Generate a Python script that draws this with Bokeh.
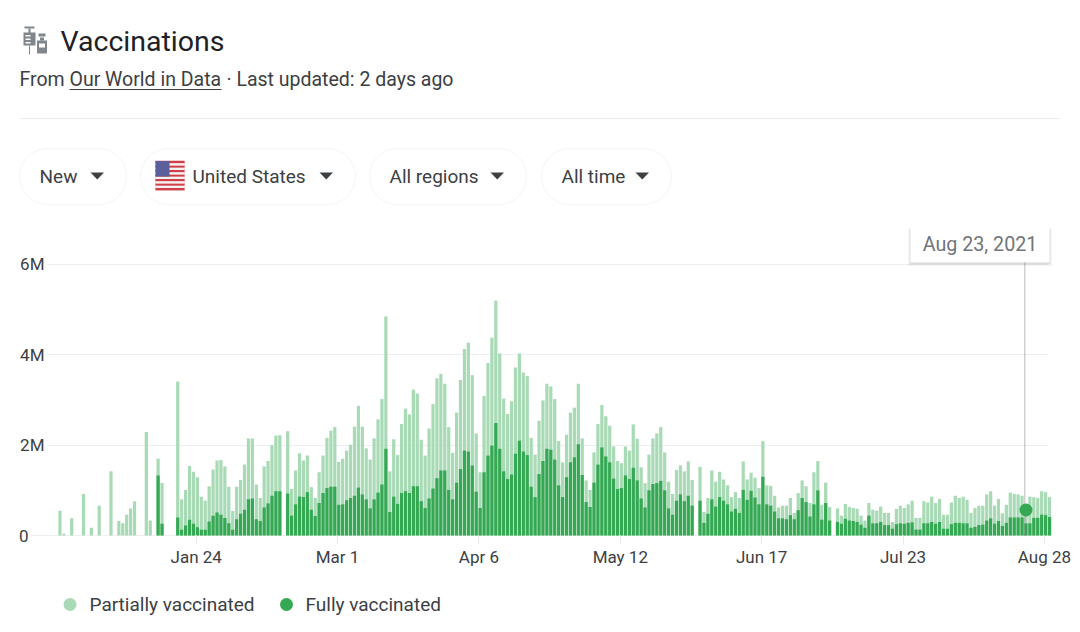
import pandas as pd
from bokeh.embed import file_html
from bokeh.resources import INLINE
from bokeh.plotting import figure
from bokeh.models import ColumnDataSource, Range1d, FixedTicker, BoxAnnotation, LinearAxis, Grid
from bokeh.core.properties import value

# ---------- data (millions of doses per day, starting 2020-12-20) ----------
first_day = "2020-12-20"
partially = [
 0.55,0.04,0,0.38,0,0,0.92,0,0.17,0,0.66,0,0,1.42,0,0.32,0.27,0.46,0.60,0.76,0,0,2.29,0.33,0,
 1.70,1.16,0,0,0,3.41,0.80,1.01,1.54,1.41,1.29,0.86,0.77,1.09,1.46,1.66,1.67,1.53,1.08,0.54,1.08,1.23,1.57,2.15,2.15,
 1.13,0.83,1.53,1.65,2.00,2.21,2.22,0,2.31,1.03,1.44,1.82,1.66,1.77,1.07,0.83,1.40,1.77,2.16,2.32,2.40,1.63,1.70,1.88,2.01,
 2.41,2.87,2.41,1.93,1.68,2.15,2.57,3.02,4.85,1.42,2.13,1.78,2.47,2.81,2.68,3.23,3.14,2.12,1.77,2.37,2.91,3.48,3.58,3.36,2.40,
 1.83,2.72,3.44,4.13,4.27,3.55,2.26,1.40,3.09,3.82,4.38,5.20,4.03,3.03,2.69,2.97,3.72,4.03,3.61,3.53,2.16,1.79,2.54,2.99,3.36,
 3.30,3.02,2.09,1.62,2.23,2.72,2.83,3.36,2.15,1.22,1.01,1.84,2.47,2.89,2.64,2.43,1.97,1.65,1.60,1.97,1.88,2.46,2.14,1.51,1.16,
 1.79,2.15,2.26,2.40,1.84,1.19,0.92,1.45,1.55,1.42,1.64,1.23,0,1.52,0.52,0.83,1.44,1.19,1.41,1.24,1.11,0.85,0.96,0.83,1.64,
 1.24,1.39,1.28,1.05,2.09,1.11,1.10,0.88,0.62,0.66,0.66,0.83,0.50,0.94,1.22,1.09,0.72,1.40,1.65,0.68,1.17,0.63,0,0.60,0.44,
 0.70,0.63,0.61,0.59,0.44,0.33,0.72,0.57,0.55,0.64,0.50,0.50,0.30,0.59,0.66,0.61,0.69,0.77,0.39,0.39,0.76,0.73,0.86,0.72,0.81,
 0.46,0.46,0.73,0.88,0.83,0.86,0.79,0.50,0.61,0.66,0.66,0.91,0.98,0.66,0.81,0.49,0.68,0.95,0.92,0.91,0.88,0.48,0.86,0.85,0.83,
 0.98,0.96,0.85]
fully = [
 0,0,0,0,0,0,0,0,0,0,0,0,0,0,0,0,0,0,0,0,0,0,0,0,0,
 1.33,0.26,0,0,0,0.40,0.13,0.22,0.35,0.26,0.18,0.13,0.13,0.31,0.44,0.51,0.46,0.39,0.27,0.13,0.36,0.48,0.57,0.80,0.82,
 0.36,0.32,0.62,0.71,0.88,0.98,0.98,0,0.93,0.44,0.69,0.86,0.85,0.96,0.57,0.43,0.72,0.94,1.05,1.08,1.08,0.68,0.69,0.78,0.83,
 0.88,1.06,0.91,0.80,0.60,0.80,0.95,1.13,1.92,0.52,0.86,0.70,0.94,0.98,0.94,1.09,1.09,0.76,0.61,0.82,1.04,1.27,1.44,1.44,1.01,
 0.80,1.17,1.47,1.88,1.86,1.55,0.97,0.61,1.40,1.77,1.99,2.49,1.92,1.42,1.25,1.35,1.81,2.10,1.86,1.78,1.08,0.85,1.36,1.65,1.92,
 1.90,1.68,1.11,0.85,1.29,1.62,1.73,2.02,1.34,0.74,0.63,1.17,1.57,1.95,1.75,1.62,1.26,1.03,1.05,1.33,1.25,1.50,1.22,0.82,0.62,
 1.00,1.14,1.16,1.21,1.00,0.60,0.46,0.77,0.91,0.76,0.88,0.66,0,0.77,0.28,0.48,0.80,0.64,0.85,0.77,0.69,0.53,0.59,0.50,1.01,
 0.79,0.99,0.84,0.69,1.30,0.69,0.66,0.53,0.38,0.38,0.36,0.45,0.36,0.56,0.83,0.74,0.42,0.69,1.00,0.35,0.72,0.33,0,0.30,0.26,
 0.37,0.33,0.32,0.30,0.24,0.17,0.44,0.27,0.27,0.30,0.23,0.23,0.15,0.25,0.27,0.26,0.28,0.29,0.13,0.13,0.27,0.27,0.30,0.26,0.30,
 0.15,0.15,0.25,0.28,0.28,0.27,0.27,0.17,0.19,0.23,0.24,0.33,0.38,0.26,0.32,0.21,0.28,0.40,0.40,0.40,0.40,0.27,0.27,0.39,0.39,
 0.46,0.45,0.41]
tick_dates = ["2021-01-24", "2021-03-01", "2021-04-06", "2021-05-12", "2021-06-17", "2021-07-23", "2021-08-28"]
tick_labels = ["Jan 24", "Mar 1", "Apr 6", "May 12", "Jun 17", "Jul 23", "Aug 28"]
y_ticks = [0, 2, 4, 6]
y_labels = ["0", "2M", "4M", "6M"]
hover_date = "2021-08-23"
hover_value = 0.565

LIGHT = "#A8DAB5"
DARK = "#34A853"
TEXT = "#3c4043"
FONT = "Roboto"
BAR = 0.82
BAR_SHIFT = 0.3
W, H = 1076, 628

assert len(partially) == len(fully)
origin = pd.Timestamp(tick_dates[0])
dates = pd.date_range(first_day, periods=len(partially))
days = [(d - origin).days for d in dates]
source = ColumnDataSource(dict(x=[d + BAR_SHIFT for d in days], partial=partially, full=fully))

# The frame fills the page; data scales are set so that ticks land as in the reference.
XPX = 3.927      # px per day
YPX = 45.17      # px per million
X_ZERO = 195.7   # pixel x of first tick
Y_ZERO = 535     # pixel y of baseline
p = figure(width=W, height=H,
           x_range=Range1d((0 - X_ZERO) / XPX, (W - X_ZERO) / XPX),
           y_range=Range1d((Y_ZERO - H) / YPX, (Y_ZERO - 0) / YPX),
           toolbar_location=None, output_backend="svg", min_border=0,
           min_border_left=0, min_border_right=0, min_border_top=0, min_border_bottom=0,
           outline_line_color=None, background_fill_color="white", border_fill_color="white",
           x_axis_location=None, y_axis_location=None)
p.extra_x_ranges["page"] = Range1d(1, W + 1)
p.extra_y_ranges["page"] = Range1d(H, 0)
PAGE = dict(x_range_name="page", y_range_name="page")

p.xgrid.visible = False
p.ygrid.visible = False
p.add_layout(Grid(dimension=1, ticker=FixedTicker(ticks=y_ticks), grid_line_color="#eeeff0", grid_line_width=1))
# keep grid lines to the plot zone only
p.quad(left=[1, 1048], right=[32, W + 1], top=[250, 250], bottom=[545, 545], fill_color="white", line_color=None, **PAGE)
p.quad(left=[32, 32, 32], right=[47, 47, 47], top=[255, 345, 436], bottom=[272, 362, 453],
       fill_color="white", line_color=None, **PAGE)

# ---------- header ----------
ICON = "#80868b"
p.quad(left=[25, 29, 24, 29.5], right=[35, 31, 36, 30.5], top=[26, 28, 32, 45], bottom=[28, 33, 45, 54],
       fill_color=ICON, line_color=None, **PAGE)
p.quad(left=[26, 26, 26], right=[31, 31, 31], top=[34.5, 38, 41.5], bottom=[36, 39.5, 43],
       fill_color="white", line_color=None, **PAGE)
p.quad(left=[39, 40.5, 37.5], right=[46, 44.5, 47.5], top=[33, 37, 40], bottom=[36, 40, 53],
       fill_color=ICON, line_color=None, **PAGE)
p.quad(left=[39.5], right=[45.5], top=[43], bottom=[47], fill_color="white", line_color=None, **PAGE)

p.text(x=[61], y=[41], text=["Vaccinations"], text_font=value(FONT), text_font_size="28.5px",
       text_color="#202124", text_baseline="middle", text_align="left", **PAGE)
SUB = dict(text_font=value(FONT), text_font_size="19.5px", text_color=TEXT, text_baseline="middle")
p.text(x=[20], y=[79], text=["From"], **SUB, **PAGE)
p.text(x=[70], y=[79], text=["Our World in Data"], **SUB, **PAGE)
p.segment(x0=[70], x1=[222], y0=[89], y1=[89], line_color=TEXT, line_width=1.2, **PAGE)
p.text(x=[227], y=[79], text=["· Last updated: 2 days ago"], **SUB, **PAGE)
p.segment(x0=[20], x1=[1061], y0=[118], y1=[118], line_color="#e8eaed", line_width=1, **PAGE)

chips = [(20, 127, "New", 40, 91), (141, 356, "United States", 193, 320),
         (370, 527, "All regions", 390, 491), (542, 672, "All time", 562, 636)]
for left, right, label, tx, tri in chips:
    p.add_layout(BoxAnnotation(left=left, right=right, top=148, bottom=204, fill_color="white", fill_alpha=1,
                               line_color="#dadce0", line_width=1, border_radius=28, level="underlay", **PAGE))
    p.text(x=[tx], y=[176], text=[label], text_font=value(FONT), text_font_size="19px",
           text_color=TEXT, text_baseline="middle", **PAGE)
    p.patch(x=[tri, tri + 13.5, tri + 6.75], y=[172, 172, 179], fill_color=TEXT, line_color=None, **PAGE)

# flag
p.quad(left=[156], right=[185], top=[160], bottom=[190], fill_color="#e8a0a4", line_color=None, **PAGE)
stripes = [160.5 + i * 4.5 for i in range(7)]
p.quad(left=[156] * 7, right=[185] * 7, top=stripes, bottom=[s + 2.3 for s in stripes],
       fill_color="#cf3f4a", line_color=None, **PAGE)
p.quad(left=[156] * 6, right=[185] * 6, top=[s + 2.3 for s in stripes[:6]], bottom=[s + 4.5 for s in stripes[:6]],
       fill_color="#f6f1f1", line_color=None, **PAGE)
p.quad(left=[156], right=[170], top=[160.5], bottom=[176], fill_color="#5b5f9c", line_color=None, **PAGE)

# ---------- axes ----------
xaxis = LinearAxis(fixed_location=0, ticker=FixedTicker(ticks=[(pd.Timestamp(t) - origin).days for t in tick_dates]),
                   major_label_overrides={(pd.Timestamp(t) - origin).days: l for t, l in zip(tick_dates, tick_labels)},
                   axis_line_color=None, major_tick_line_color="#e8eaed", major_tick_in=0, major_tick_out=9,
                   minor_tick_line_color=None, minor_tick_out=0, minor_tick_in=0,
                   major_label_text_font=FONT, major_label_text_font_size="17px",
                   major_label_text_color=TEXT, major_label_standoff=2)
p.add_layout(xaxis, "below")
Y_AXIS_X = (46 - X_ZERO) / XPX
axis_style = dict(fixed_location=Y_AXIS_X, axis_line_color=None, major_tick_line_color=None,
                  minor_tick_line_color=None, major_tick_out=0, major_tick_in=0, minor_tick_out=0, minor_tick_in=0,
                  major_label_text_font=FONT, major_label_text_font_size="17px",
                  major_label_text_color=TEXT)
yaxis = LinearAxis(ticker=FixedTicker(ticks=y_ticks[1:]), major_label_overrides=dict(zip(y_ticks[1:], y_labels[1:])),
                   major_label_standoff=2, **axis_style)
p.add_layout(yaxis, "left")
zero_axis = LinearAxis(ticker=FixedTicker(ticks=y_ticks[:1]), major_label_overrides=dict(zip(y_ticks[:1], y_labels[:1])),
                       major_label_standoff=18, **axis_style)
p.add_layout(zero_axis, "left")

# ---------- bars ----------
p.vbar(x="x", top="partial", bottom=0, width=BAR, source=source, fill_color=LIGHT, line_color=None)
p.vbar(x="x", top="full", bottom=0, width=BAR, source=source, fill_color=DARK, line_color=None)

hx = (pd.Timestamp(hover_date) - origin).days
p.segment(x0=[hx], x1=[hx], y0=[0], y1=[6.1], line_color="#70757a", line_width=1, line_dash="1 1")
p.scatter(x=[hx + BAR_SHIFT], y=[hover_value], size=13, marker="circle", fill_color=DARK, line_color=None)

# tooltip
for grow, alpha in [(4, 0.02), (3, 0.03), (2, 0.05), (1, 0.07)]:
    p.quad(left=[911 - grow + 1], right=[1050 + grow - 1], top=[226 + 2], bottom=[262 + grow],
           fill_color="#000000", fill_alpha=alpha, line_color=None, **PAGE)
p.quad(left=[911], right=[1050], top=[226], bottom=[262], fill_color="white", line_color=None, **PAGE)
p.text(x=[980.5], y=[243.5], text=[pd.Timestamp(hover_date).strftime("%b %d, %Y")], text_font=value(FONT),
       text_font_size="19.7px", text_color="#70757a", text_align="center", text_baseline="middle", **PAGE)

# ---------- legend ----------
p.scatter(x=[70.5], y=[604], size=13, marker="circle", fill_color=LIGHT, line_color=None, **PAGE)
p.scatter(x=[287], y=[604], size=13, marker="circle", fill_color=DARK, line_color=None, **PAGE)
p.text(x=[90, 306], y=[604, 604], text=["Partially vaccinated", "Fully vaccinated"], text_font=value(FONT),
       text_font_size="19px", text_color=TEXT, text_baseline="middle", **PAGE)

open("out.html", "w").write(file_html(p, INLINE))
